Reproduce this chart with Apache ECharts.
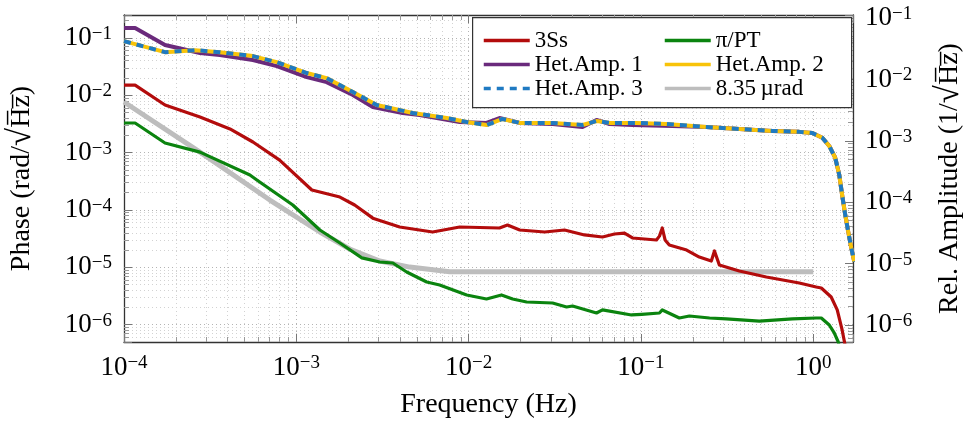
<!DOCTYPE html>
<html>
<head>
<meta charset="utf-8">
<script src="https://cdn.jsdelivr.net/npm/echarts@6/dist/echarts.min.js"></script>
<style>
html, body { margin: 0; padding: 0; background: #fff; }
#chart { width: 964px; height: 423px; }
</style>
</head>
<body>
<div id="chart"></div>
<script>
// values (frequency in Hz)
var red3SsFreq = [1e-4, 1.16e-4, 1.73e-4, 2.76e-4, 4.12e-4, 5.6e-4, 8.0e-4, 1.23e-3, 1.79e-3, 2.18e-3, 2.78e-3, 3.98e-3, 6.18e-3, 8.87e-3, 1.51e-2, 1.68e-2, 1.98e-2, 2.76e-2, 3.6e-2, 4.7e-2, 5.98e-2, 7.02e-2, 8.02e-2, 8.93e-2, 0.123, 0.128, 0.133, 0.138, 0.146, 0.184, 0.218, 0.256, 0.267, 0.285, 0.372, 0.534, 0.829, 1.04, 1.113, 1.27, 1.377, 1.47, 1.55];
var red3SsVal = [1.5e-2, 1.5e-2, 6.75e-3, 4.17e-3, 2.58e-3, 1.53e-3, 7.4e-4, 2.23e-4, 1.68e-4, 1.22e-4, 7.2e-5, 5.05e-5, 4.13e-5, 5.05e-5, 4.85e-5, 5.47e-5, 4.48e-5, 4.13e-5, 4.48e-5, 3.67e-5, 3.38e-5, 3.81e-5, 3.95e-5, 3.25e-5, 3.0e-5, 3.5e-5, 4.85e-5, 3.0e-5, 2.45e-5, 2.0e-5, 1.51e-5, 1.29e-5, 1.93e-5, 1.1e-5, 8.63e-6, 6.79e-6, 5.33e-6, 4.55e-6, 4.37e-6, 3.04e-6, 1.81e-6, 8.1e-7, 3.6e-7];

var piPtFreq = [1e-4, 1.16e-4, 1.73e-4, 2.76e-4, 5.38e-4, 5.9e-4, 9.54e-4, 1.37e-3, 1.79e-3, 2.4e-3, 3.05e-3, 3.63e-3, 4.37e-3, 5.71e-3, 6.79e-3, 9.74e-3, 1.27e-2, 1.55e-2, 1.8e-2, 2.17e-2, 3.07e-2, 3.7e-2, 4.01e-2, 5.52e-2, 5.98e-2, 8.81e-2, 0.101, 0.128, 0.133, 0.167, 0.191, 0.25, 0.313, 0.486, 0.756, 1.04, 1.113, 1.238, 1.323, 1.396, 1.45];
var piPtVal = [3.28e-3, 3.28e-3, 1.47e-3, 1.02e-3, 4.07e-4, 3.33e-4, 1.22e-4, 4.48e-5, 2.66e-5, 1.46e-5, 1.24e-5, 1.19e-5, 8.29e-6, 5.56e-6, 4.92e-6, 3.3e-6, 2.81e-6, 3.3e-6, 2.81e-6, 2.49e-6, 2.39e-6, 2.04e-6, 2.12e-6, 1.6e-6, 1.81e-6, 1.48e-6, 1.52e-6, 1.6e-6, 1.81e-6, 1.31e-6, 1.42e-6, 1.31e-6, 1.26e-6, 1.16e-6, 1.26e-6, 1.31e-6, 1.31e-6, 9.9e-7, 7.2e-7, 5.0e-7, 3.0e-7];

var het1Freq = [1e-4, 1.16e-4, 1.73e-4, 2.76e-4, 3.6e-4, 5.6e-4, 7.71e-4, 1.15e-3, 1.5e-3, 2.13e-3, 2.78e-3, 4.14e-3, 5.2e-3, 8.87e-3, 1.27e-2, 1.51e-2, 1.98e-2, 3.07e-2, 4.58e-2, 5.52e-2, 6.57e-2, 8.93e-2, 0.152, 0.24, 0.372, 0.578, 0.829, 0.987, 1.128, 1.238, 1.341, 1.415, 1.47, 1.532, 1.595, 1.661, 1.729];
var het1Val = [6.85e-2, 6.85e-2, 3.63e-2, 2.69e-2, 2.5e-2, 2.07e-2, 1.65e-2, 1.09e-2, 9.05e-3, 5.57e-3, 3.56e-3, 2.84e-3, 2.63e-3, 2.03e-3, 1.96e-3, 2.35e-3, 1.96e-3, 1.88e-3, 1.68e-3, 2.19e-3, 1.88e-3, 1.81e-3, 1.75e-3, 1.68e-3, 1.56e-3, 1.45e-3, 1.4e-3, 1.34e-3, 1.12e-3, 8.26e-4, 5.27e-4, 2.79e-4, 1.32e-4, 6.26e-5, 3.31e-5, 1.81e-5, 1.07e-5];

var het2Freq = [1e-4, 1.16e-4, 1.73e-4, 2.58e-4, 3.6e-4, 5.6e-4, 7.71e-4, 1.15e-3, 1.5e-3, 2.13e-3, 2.93e-3, 4.74e-3, 7.46e-3, 9.74e-3, 1.27e-2, 1.57e-2, 1.98e-2, 3.07e-2, 4.58e-2, 5.52e-2, 6.57e-2, 9.42e-2, 0.14, 0.24, 0.372, 0.578, 0.829, 0.987, 1.128, 1.238, 1.341, 1.415, 1.47, 1.532, 1.595, 1.661, 1.729];
var het2Val = [4.2e-2, 3.76e-2, 2.78e-2, 3.0e-2, 2.78e-2, 2.4e-2, 1.91e-2, 1.27e-2, 1.05e-2, 6.23e-3, 3.83e-3, 2.84e-3, 2.35e-3, 2.03e-3, 1.81e-3, 2.27e-3, 1.96e-3, 1.96e-3, 1.81e-3, 2.1e-3, 1.96e-3, 1.96e-3, 1.88e-3, 1.68e-3, 1.56e-3, 1.45e-3, 1.4e-3, 1.34e-3, 1.12e-3, 8.26e-4, 5.27e-4, 2.79e-4, 1.32e-4, 6.26e-5, 3.31e-5, 1.81e-5, 1.07e-5];

// Het.Amp. 3 lies on top of Het.Amp. 2 everywhere in the picture
var het3Freq = het2Freq;
var het3Val = het2Val;

var levelFreq = [1e-4, 2.76e-4, 7.02e-4, 1.37e-3, 2.04e-3, 3.05e-3, 4.55e-3, 7.76e-3, 1.0];
var levelVal = [7.62e-3, 1.02e-3, 1.49e-4, 4.13e-5, 2.09e-5, 1.29e-5, 1.01e-5, 8.35e-6, 8.35e-6];

var FONT = '"Liberation Serif", "DejaVu Serif", serif';

function pairs(xs, ys) {
  return xs.map(function(x, i) { return [x, ys[i]]; });
}

// only whole decades get a label, written as 10^n
function powLabel(v) {
  var l = Math.log10(v);
  var e = Math.round(l);
  if (Math.abs(l - e) > 1e-6) {
    return '';
  }
  return '10{sup|' + (e < 0 ? '\u2212' + (-e) : e) + '}';
}

var labelRich = {
  sup: { fontSize: 19, fontFamily: FONT, color: '#000', verticalAlign: 'top', lineHeight: 18 }
};
var majorDot = { color: '#b4b4b4', width: 1, type: [1, 3] };
var minorDot = { color: '#d2d2d2', width: 1, type: [1, 3] };
var axisLine = { show: true, onZero: false, lineStyle: { color: '#333', width: 1.3 } };
var tick = { show: true, inside: true, length: 8, lineStyle: { color: '#777' } };
var minorTick = { show: true, splitNumber: 9, length: 5, lineStyle: { color: '#999' } };
var nameStyle = {
  fontFamily: FONT, fontSize: 28, color: '#000',
  rich: { sq: { fontFamily: FONT, fontSize: 33, color: '#000' } }
};
var tickLabel = { formatter: powLabel, rich: labelRich, fontFamily: FONT, fontSize: 27, color: '#000', margin: 12 };

function lineSeries(name, data, color, width, yIndex, z, dash) {
  return {
    name: name,
    type: 'line',
    data: data,
    yAxisIndex: yIndex,
    symbol: 'none',
    z: z,
    lineStyle: { color: color, width: width, type: dash || 'solid', cap: 'butt', join: 'round' },
    itemStyle: { color: color }
  };
}

function legendBlock(names, left) {
  return {
    data: names,
    orient: 'vertical', left: left, top: 29, z: 6, padding: 0,
    itemWidth: 46, itemHeight: 14, itemGap: 1,
    itemStyle: { opacity: 0 },
    lineStyle: { width: 3.5 },
    textStyle: { fontFamily: FONT, fontSize: 23, color: '#000', lineHeight: 18 }
  };
}

var chart = echarts.init(document.getElementById('chart'));
chart.setOption({
  animation: false,
  backgroundColor: '#fff',
  grid: { left: 124, right: 111, top: 15, bottom: 81, outerBoundsMode: 'none' },
  xAxis: [{
    type: 'log', logBase: 10, min: 1e-4, max: 1.7, position: 'bottom',
    name: 'Frequency (Hz)', nameLocation: 'middle', nameGap: 49, nameTextStyle: nameStyle,
    axisLine: axisLine, axisTick: tick, minorTick: minorTick,
    splitLine: { show: true, lineStyle: majorDot },
    minorSplitLine: { show: true, lineStyle: minorDot },
    axisLabel: tickLabel
  }, {
    type: 'log', logBase: 10, min: 1e-4, max: 1.7, position: 'top',
    axisLine: axisLine, axisTick: tick, minorTick: minorTick,
    splitLine: { show: false }, axisLabel: { show: false }
  }],
  yAxis: [{
    type: 'log', logBase: 10, min: 5e-7, max: 0.25, position: 'left',
    name: 'Phase (rad/{sq|\u221A}H\u0305z\u0305)', nameLocation: 'middle', nameGap: 86, nameRotate: 90,
    nameTextStyle: nameStyle,
    axisLine: axisLine, axisTick: tick, minorTick: minorTick,
    splitLine: { show: true, lineStyle: majorDot },
    minorSplitLine: { show: true, lineStyle: minorDot },
    axisLabel: tickLabel
  }, {
    type: 'log', logBase: 10, min: 5.3e-7, max: 0.112, position: 'right',
    name: 'Rel. Amplitude (1/{sq|\u221A}H\u0305z\u0305)', nameLocation: 'middle', nameGap: 80, nameRotate: 90,
    nameTextStyle: nameStyle,
    axisLine: axisLine, axisTick: tick, minorTick: minorTick,
    splitLine: { show: false },
    axisLabel: tickLabel
  }],
  graphic: [{
    type: 'rect', left: 472, top: 17, z: 5,
    shape: { width: 379, height: 90 },
    style: { fill: '#fff', stroke: '#333', lineWidth: 1.2 }
  }],
  legend: [
    legendBlock(['3Ss', 'Het.Amp. 1', 'Het.Amp. 3'], 482),
    legendBlock(['\u03C0/PT', 'Het.Amp. 2', '8.35\u2009\u00B5rad'], 663)
  ],
  series: [
    lineSeries('8.35\u2009\u00B5rad', pairs(levelFreq, levelVal), '#bdbdbd', 5, 0, 1),
    lineSeries('3Ss', pairs(red3SsFreq, red3SsVal), '#b30c0c', 3.2, 0, 2),
    lineSeries('\u03C0/PT', pairs(piPtFreq, piPtVal), '#0b840f', 3.2, 0, 2),
    lineSeries('Het.Amp. 1', pairs(het1Freq, het1Val), '#6a2a7c', 4, 1, 3),
    lineSeries('Het.Amp. 2', pairs(het2Freq, het2Val), '#f8c309', 4, 1, 3),
    lineSeries('Het.Amp. 3', pairs(het3Freq, het3Val), '#1f7ac2', 4, 1, 3, [7, 6])
  ]
});
</script>
</body>
</html>
